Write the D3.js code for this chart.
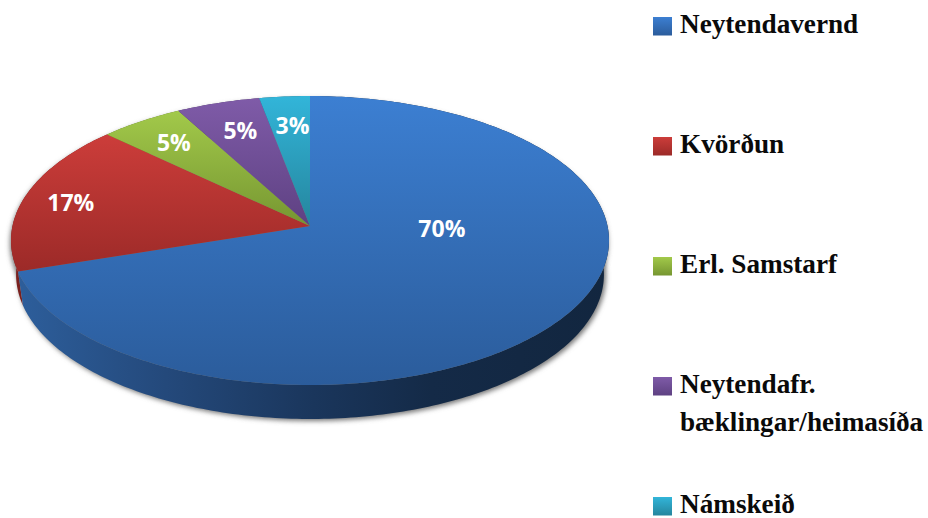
<!DOCTYPE html>
<html>
<head>
<meta charset="utf-8">
<script src="https://cdnjs.cloudflare.com/ajax/libs/d3/7.8.5/d3.min.js"></script>
<style>
html,body{margin:0;padding:0;background:#fff}
svg{display:block}
.pct{font-family:"Open Sans",sans-serif;font-weight:700;font-size:23px;fill:#fff;text-anchor:middle}
.leg{font-family:"Liberation Serif",serif;font-weight:700;font-size:27.2px;fill:#0a0a0a}
</style>
</head>
<body>
<svg id="chart" width="928" height="518"></svg>
<script>
let categories=['Neytendavernd','Kvörðun','Erl. Samstarf','Neytendafr. bæklingar/heimasíða','Námskeið']
let values=[70,17,5,5,3]
let legendLines=[['Neytendavernd'],['Kvörðun'],['Erl. Samstarf'],['Neytendafr.','bæklingar/heimasíða'],['Námskeið']]
let topColors=['#3c7fd2','#cc3d3a','#a2c94a','#7f5ba8','#32b5d9']
let bottomColors=['#2b5c9b','#9c2a28','#769631','#5e4182','#25859d']

let chart=d3.select('#chart')
let defs=chart.append('defs')

// tilted disc: unit circle pushed through a perspective, apex sits above the ellipse middle
let cx=310,cy=226,k=-0.1003
let xScale=d3.scaleLinear().domain([0,1]).range([cx,cx+297.5])
let yScale=d3.scaleLinear().domain([0,1]).range([cy,cy+143])
let project=(angle,r)=>{
    let u=Math.sin(angle)*r, v=-Math.cos(angle)*r
    let d=1+k*v
    return [xScale(u/d),yScale(v/d)]
}
let lower=(p)=>[cx+(p[0]-cx)*0.983,p[1]+34]
let line=d3.line()

let arcPoints=(a0,a1)=>{
    let n=Math.max(2,Math.ceil((a1-a0)*60))
    return d3.range(n+1).map(i=>project(a0+(a1-a0)*i/n,1))
}

let slices=d3.pie().sort(null).value(d=>d)(values)

topColors.forEach((c,i)=>{
    let g=defs.append('linearGradient').attr('id','top'+i).attr('x1',0).attr('y1',0).attr('x2',0).attr('y2',1)
    g.append('stop').attr('offset','0%').attr('stop-color',c)
    g.append('stop').attr('offset','100%').attr('stop-color',bottomColors[i])
})
let rimBlue=defs.append('linearGradient').attr('id','rim0').attr('gradientUnits','userSpaceOnUse')
    .attr('x1',18).attr('y1',0).attr('x2',609).attr('y2',0)
;[[0,'#2d5e9b'],[0.25,'#24497b'],[0.5,'#1a365c'],[0.7,'#142a47'],[1,'#12263f']].forEach(s=>{
    rimBlue.append('stop').attr('offset',s[0]).attr('stop-color',s[1])
})
let shadow=defs.append('filter').attr('id','soft').attr('x','-5%').attr('y','-5%').attr('width','110%').attr('height','110%')
shadow.append('feGaussianBlur').attr('stdDeviation',2.5)

// soft shadow under the side wall
let outline=arcPoints(0,2*Math.PI).map(lower)
chart.append('path')
    .attr('d',line(outline)+'Z')
    .attr('fill','#777')
    .attr('transform','translate(2,2)')
    .attr('filter','url(#soft)')
let topOutline=arcPoints(0,2*Math.PI)
chart.append('path')
    .attr('d',line(topOutline)+'Z')
    .attr('fill','#777')
    .attr('transform','translate(-1,3)')
    .attr('filter','url(#soft)')

// side wall, later slices first so blue covers the red edge
chart.selectAll('path.rim')
    .data(slices.slice().reverse())
    .enter()
    .append('path')
    .attr('class','rim')
    .attr('d',(d)=>{
        let pts=arcPoints(d.startAngle,d.endAngle)
        return line(pts.concat(pts.map(lower).reverse()))+'Z'
    })
    .attr('fill',(d)=>d.index===0?'url(#rim0)':d3.color(bottomColors[d.index]).darker(0.7))

// top of the pie
chart.selectAll('path.slice')
    .data(slices)
    .enter()
    .append('path')
    .attr('class','slice')
    .attr('d',(d)=>line([project(0,0)].concat(arcPoints(d.startAngle,d.endAngle)))+'Z')
    .attr('fill',(d,i)=>'url(#top'+i+')')

// percent labels, placed part way out the slice then nudged like the original
let labelNudge=[[-57,-64],[-25,-1],[-7,-4],[1,-2],[2,-2]]
chart.selectAll('text.pct')
    .data(slices)
    .enter()
    .append('text')
    .attr('class','pct')
    .attr('x',(d,i)=>project((d.startAngle+d.endAngle)/2,0.75)[0]+labelNudge[i][0])
    .attr('y',(d,i)=>project((d.startAngle+d.endAngle)/2,0.75)[1]+labelNudge[i][1]+9)
    .text((d)=>d.value+'%')

// legend
let legendRow=d3.scaleLinear().domain([0,4]).range([17,497])
let legend=chart.selectAll('g.legend')
    .data(categories)
    .enter()
    .append('g')
    .attr('class','legend')
    .attr('transform',(d,i)=>'translate(653,'+legendRow(i)+')')
legend.append('rect')
    .attr('width',19)
    .attr('height',18.5)
    .attr('fill',(d,i)=>'url(#top'+i+')')
legend.each(function(d,i){
    let g=d3.select(this)
    legendLines[i].forEach((t,j)=>{
        g.append('text')
            .attr('class','leg')
            .attr('x',27)
            .attr('y',16+j*38)
            .text(t)
    })
})
</script>
</body>
</html>
